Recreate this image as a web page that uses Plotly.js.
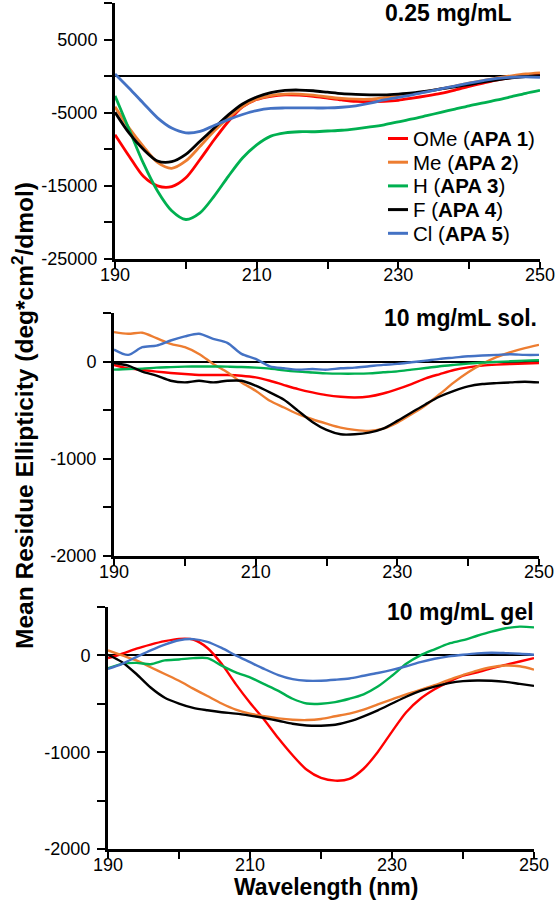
<!DOCTYPE html>
<html>
<head>
<meta charset="utf-8">
<script src="https://cdn.plot.ly/plotly-3.0.1.min.js"></script>
<style>html,body{margin:0;padding:0;background:#fff;}#chart{width:556px;height:900px;}</style>
</head>
<body>
<div id="chart"></div>
<script>
// Wavelength (nm)
const wavelength = [190,192,194,196,198,200,202,204,206,208,210,212,214,216,218,220,222,224,226,228,230,232,234,236,238,240,242,244,246,248,250];

const seriesNames = ["OMe (<b>APA 1</b>)", "Me (<b>APA 2</b>)", "H (<b>APA 3</b>)", "F (<b>APA 4</b>)", "Cl (<b>APA 5</b>)"];
const seriesColors = ["#ff0000", "#ed7d31", "#00b050", "#000000", "#4472c4"];

// Panel 1: 0.25 mg/mL
const p1_OMe = [-8000,-10950,-13700,-15000,-15100,-13900,-11400,-8700,-6200,-4200,-3200,-2750,-2550,-2600,-2750,-3000,-3250,-3450,-3500,-3450,-3300,-3000,-2700,-2350,-1900,-1400,-950,-500,-200,0,150];
const p1_Me  = [-4200,-7100,-9600,-11800,-12600,-11600,-9600,-7500,-5700,-4150,-3150,-2650,-2450,-2450,-2600,-2850,-3050,-3150,-3150,-2950,-2750,-2450,-2100,-1750,-1350,-950,-600,-250,50,300,450];
const p1_H   = [-2700,-7300,-11900,-15700,-18400,-19600,-18700,-16400,-13700,-11200,-9400,-8200,-7750,-7600,-7600,-7500,-7400,-7200,-6950,-6650,-6250,-5850,-5400,-4950,-4500,-4050,-3650,-3250,-2800,-2350,-1950];
const p1_F   = [-4950,-7800,-10000,-11600,-11700,-10700,-8900,-7100,-5300,-3800,-2850,-2250,-1950,-1900,-2000,-2200,-2400,-2500,-2550,-2550,-2450,-2300,-2050,-1750,-1450,-1150,-800,-500,-250,-50,80];
const p1_Cl  = [300,-1650,-3700,-5700,-7100,-7750,-7550,-6750,-5950,-5250,-4700,-4400,-4350,-4350,-4350,-4350,-4250,-4050,-3700,-3250,-2900,-2550,-2150,-1750,-1350,-950,-600,-300,-150,-100,-180];

// Panel 2: 10 mg/mL sol.
const p2_OMe = [-34,-69,-86,-103,-117,-128,-138,-138,-138,-145,-162,-197,-241,-283,-317,-345,-362,-369,-359,-328,-283,-231,-172,-128,-86,-59,-41,-31,-24,-20,-14];
const p2_Me  = [303,286,297,241,183,148,79,-24,-110,-214,-300,-403,-472,-541,-593,-638,-679,-703,-714,-690,-628,-541,-448,-334,-214,-110,-24,45,97,138,172];
const p2_H   = [-83,-76,-72,-62,-57,-52,-50,-50,-52,-55,-62,-72,-90,-103,-112,-121,-124,-124,-121,-110,-100,-83,-66,-48,-34,-21,-10,-3,3,10,14];
const p2_F   = [-14,-41,-103,-145,-197,-214,-197,-214,-197,-197,-248,-317,-393,-507,-621,-703,-748,-748,-731,-690,-610,-524,-438,-359,-300,-255,-231,-221,-214,-207,-214];
const p2_Cl  = [124,69,148,165,217,259,286,234,193,79,28,-48,-69,-83,-76,-83,-69,-62,-48,-34,-24,-7,10,28,41,55,62,69,76,69,69];

// Panel 3: 10 mg/mL gel
const p3_OMe = [-28,17,70,112,147,171,164,77,-87,-297,-490,-664,-857,-1032,-1182,-1266,-1294,-1276,-1171,-997,-787,-587,-448,-350,-273,-210,-175,-133,-98,-63,-28];
const p3_Me  = [52,0,-52,-122,-192,-262,-343,-420,-497,-560,-601,-629,-650,-664,-668,-657,-629,-601,-560,-507,-455,-402,-357,-308,-252,-203,-157,-122,-105,-112,-147];
const p3_H   = [-133,-87,-77,-91,-52,-42,-28,-28,-105,-175,-227,-297,-367,-448,-497,-500,-483,-448,-402,-322,-210,-87,0,63,122,157,203,245,280,297,290];
const p3_F   = [7,-70,-192,-332,-437,-497,-542,-567,-587,-601,-622,-647,-675,-706,-724,-727,-717,-682,-629,-567,-497,-427,-367,-322,-287,-266,-259,-262,-273,-294,-315];
const p3_Cl  = [-140,-87,-17,52,112,157,168,140,77,0,-70,-140,-203,-245,-262,-262,-252,-238,-210,-182,-150,-112,-70,-35,-10,7,21,28,24,17,7];

const panelTitles = ["0.25 mg/mL", "10 mg/mL sol.", "10 mg/mL gel"];
const xTickVals = [190,200,210,220,230,240,250];
const xTickText = ["190","","210","","230","","250"];
const y1TickVals = [10000,5000,0,-5000,-10000,-15000,-20000,-25000];
const y1TickText = ["","5000","","-5000","","-15000","","-25000"];
const y23TickVals = [500,0,-500,-1000,-1500,-2000];
const y23TickText = ["","0","","-1000","","-2000"];

const W = 556, H = 900;
const FONT = "Liberation Sans, Arial, Helvetica, sans-serif";

const panels = [
  {data:[p1_OMe,p1_Me,p1_H,p1_F,p1_Cl], xa:"x", ya:"y", lw:2.8},
  {data:[p2_OMe,p2_Me,p2_H,p2_F,p2_Cl], xa:"x2", ya:"y2", lw:2.4},
  {data:[p3_OMe,p3_Me,p3_H,p3_F,p3_Cl], xa:"x3", ya:"y3", lw:2.4}
];

const traces = [];
panels.forEach(p => {
  p.data.forEach((vals, i) => {
    traces.push({
      x: wavelength, y: vals, xaxis: p.xa, yaxis: p.ya,
      type: "scatter", mode: "lines",
      line: {color: seriesColors[i], width: p.lw, shape: "spline", smoothing: 0.8},
      name: seriesNames[i], showlegend: false, hoverinfo: "skip"
    });
  });
});

function xAxis(domPx, anchor) {
  return {
    domain: [domPx[0]/W, domPx[1]/W], anchor: anchor, range: [190, 250],
    tickmode: "array", tickvals: xTickVals, ticktext: xTickText,
    ticks: "outside", ticklen: 7, tickwidth: 2, tickcolor: "#000",
    showline: true, linewidth: 3, linecolor: "#000", showgrid: false, zeroline: false,
    tickfont: {family: FONT, size: 18, color: "#000"}, ticklabelstandoff: -10
  };
}
function yAxis(topPx, botPx, anchor, range, tv, tt) {
  return {
    domain: [1 - botPx/H, 1 - topPx/H], anchor: anchor, range: range,
    tickmode: "array", tickvals: tv, ticktext: tt,
    ticks: "outside", ticklen: 8, tickwidth: 2, tickcolor: "#000",
    showline: true, linewidth: 3, linecolor: "#000", showgrid: false,
    zeroline: true, zerolinecolor: "#000", zerolinewidth: 2,
    tickfont: {family: FONT, size: 18, color: "#000"}, ticklabelstandoff: 3, layer: "above traces"
  };
}

// Legend (top panel), one row per series
const legendRowY = [138.5, 162.2, 185.9, 209.6, 233.3];
const legendAnn = seriesNames.map((n, i) => ({
  text: n, xref: "paper", yref: "paper", x: 412/W, y: 1 - legendRowY[i]/H,
  xanchor: "left", yanchor: "middle", showarrow: false, borderpad: 0,
  font: {family: FONT, size: 20.5, color: "#000"}
}));
const legendKeys = seriesColors.map((c, i) => ({
  type: "line", xref: "paper", yref: "paper",
  x0: 388/W, x1: 408/W, y0: 1 - legendRowY[i]/H, y1: 1 - legendRowY[i]/H,
  line: {color: c, width: 3}
}));

const layout = {
  width: W, height: H, margin: {l:0, r:0, t:0, b:0},
  paper_bgcolor: "#fff", plot_bgcolor: "rgba(0,0,0,0)",
  showlegend: false,
  xaxis: xAxis([115, 540], "y"),
  xaxis2: xAxis([114, 539], "y2"),
  xaxis3: xAxis([108, 534], "y3"),
  yaxis: yAxis(3, 259, "x", [-25000, 10000], y1TickVals, y1TickText),
  yaxis2: yAxis(313, 556, "x2", [-2000, 500], y23TickVals, y23TickText),
  yaxis3: yAxis(607, 849, "x3", [-2000, 500], y23TickVals, y23TickText),
  shapes: legendKeys,
  annotations: [
    {text: "<b>" + panelTitles[0] + "</b>", xref: "paper", yref: "paper", x: 514/W, y: 1 - 13/H, xanchor: "right", yanchor: "middle", showarrow: false, font: {family: FONT, size: 23, color: "#000"}},
    {text: "<b>" + panelTitles[1] + "</b>", xref: "paper", yref: "paper", x: 539/W, y: 1 - 318/H, xanchor: "right", yanchor: "middle", showarrow: false, font: {family: FONT, size: 23, color: "#000"}},
    {text: "<b>" + panelTitles[2] + "</b>", xref: "paper", yref: "paper", x: 536/W, y: 1 - 612/H, xanchor: "right", yanchor: "middle", showarrow: false, font: {family: FONT, size: 23, color: "#000"}},
    {text: "<b>Wavelength (nm)</b>", xref: "paper", yref: "paper", x: 326/W, y: 1 - 887/H, xanchor: "center", yanchor: "middle", showarrow: false, font: {family: FONT, size: 23, color: "#000"}},
    {text: "<b>Mean Residue Ellipticity (deg*cm<sup>2</sup>/dmol)</b>", xref: "paper", yref: "paper", x: 22/W, y: 1 - 416/H, xanchor: "center", yanchor: "middle", textangle: -90, showarrow: false, font: {family: FONT, size: 24.5, color: "#000"}}
  ].concat(legendAnn)
};

Plotly.newPlot("chart", traces, layout, {staticPlot: true, displayModeBar: false});
</script>
</body>
</html>
